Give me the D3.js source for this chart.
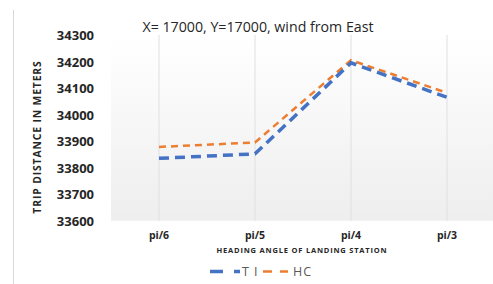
<!DOCTYPE html>
<html><head><meta charset="utf-8">
<script src="https://cdn.jsdelivr.net/npm/d3@7"></script>
<style>body{margin:0;background:#fff}svg{display:block}</style>
</head><body>
<script>
const categories = ["pi/6","pi/5","pi/4","pi/3"];
const seriesTI = [33835, 33852, 34195, 34065];
const seriesHC = [33878, 33895, 34205, 34082];
const yTicks = [33600,33700,33800,33900,34000,34100,34200,34300];
const seriesNames = ["TI","HC"];
const colors = ["#4472C4","#ED7D31"];

(function(){
const W=493,H=284;
const svg=d3.select("body").append("svg").attr("width",W).attr("height",H);
const font="'Open Sans', sans-serif";

const pL=111,pR=495,pT=35,pB=220.7;
const x=d3.scaleBand().domain(categories).range([pL,pR]);
const y=d3.scaleLinear().domain([33600,34300]).range([pB,pT]);

svg.append("line").attr("x1",13.5).attr("x2",13.5).attr("y1",10).attr("y2",H).attr("stroke","#d9d9d9").attr("stroke-width",1);

const defs=svg.append("defs");
const g=defs.append("linearGradient").attr("id","bg").attr("x1",0).attr("x2",0).attr("y1",0).attr("y2",1);
g.append("stop").attr("offset","0%").attr("stop-color","#ffffff");
g.append("stop").attr("offset","100%").attr("stop-color","#eeeeee");
svg.append("rect").attr("x",pL).attr("y",pT).attr("width",pR-pL).attr("height",pB-pT).attr("fill","url(#bg)");

svg.append("g").selectAll("line").data(categories).join("line")
  .attr("x1",d=>x(d)+x.bandwidth()/2).attr("x2",d=>x(d)+x.bandwidth()/2)
  .attr("y1",pT).attr("y2",pB).attr("stroke","#e0e0e0").attr("stroke-width",1);

const ya=svg.append("g").attr("transform",`translate(${pL-14},0)`)
  .call(d3.axisLeft(y).tickValues(yTicks).tickSize(0).tickFormat(d3.format("d")));
ya.select(".domain").remove();
ya.selectAll("text").attr("font-family",font).attr("font-weight","bold").attr("font-size","13px").attr("fill","#262626").attr("dy","0.35em");

const xa=svg.append("g").attr("transform",`translate(0,${pB+8})`)
  .call(d3.axisBottom(x).tickSize(0));
xa.select(".domain").remove();
xa.selectAll("text").attr("font-family",font).attr("font-weight","bold").attr("font-size","10.5px").attr("fill","#262626").attr("dy","0.71em");

const line=d3.line().x((d,i)=>x(categories[i])+x.bandwidth()/2).y(d=>y(d));
svg.append("path").datum(seriesHC).attr("d",line).attr("fill","none").attr("stroke",colors[1]).attr("stroke-width",2.5).attr("stroke-dasharray","7,5");
svg.append("path").datum(seriesTI).attr("d",line).attr("fill","none").attr("stroke",colors[0]).attr("stroke-width",3.5).attr("stroke-dasharray","10,6");

svg.append("text").attr("x",258).attr("y",32).attr("text-anchor","middle").attr("font-family",font).attr("font-size","14.2px").attr("fill","#262626").text("X= 17000, Y=17000, wind from East");

svg.append("text").attr("transform","translate(41,137) rotate(-90)").attr("text-anchor","middle")
  .attr("font-family",font).attr("font-weight","bold").attr("font-size","10.3px").attr("letter-spacing","0.9px").attr("fill","#262626").text("TRIP DISTANCE IN METERS");
svg.append("text").attr("x",302).attr("y",253).attr("text-anchor","middle")
  .attr("font-family",font).attr("font-weight","bold").attr("font-size","7.5px").attr("letter-spacing","0.8px").attr("fill","#262626").text("HEADING ANGLE OF LANDING STATION");

const leg=[{x:210,len:30,tx:242,n:seriesNames[0],c:colors[0],w:3.5,da:"13,11",ls:"5px"},
           {x:263,len:25,tx:293,n:seriesNames[1],c:colors[1],w:2.5,da:"9,8",ls:"1px"}];
leg.forEach(l=>{
  svg.append("line").attr("x1",l.x).attr("x2",l.x+l.len).attr("y1",271.5).attr("y2",271.5).attr("stroke",l.c).attr("stroke-width",l.w).attr("stroke-dasharray",l.da);
  svg.append("text").attr("x",l.tx).attr("y",276).attr("font-family",font).attr("font-size","12.5px").attr("letter-spacing",l.ls).attr("fill","#595959").text(l.n);
});
})();
</script>
</body></html>
